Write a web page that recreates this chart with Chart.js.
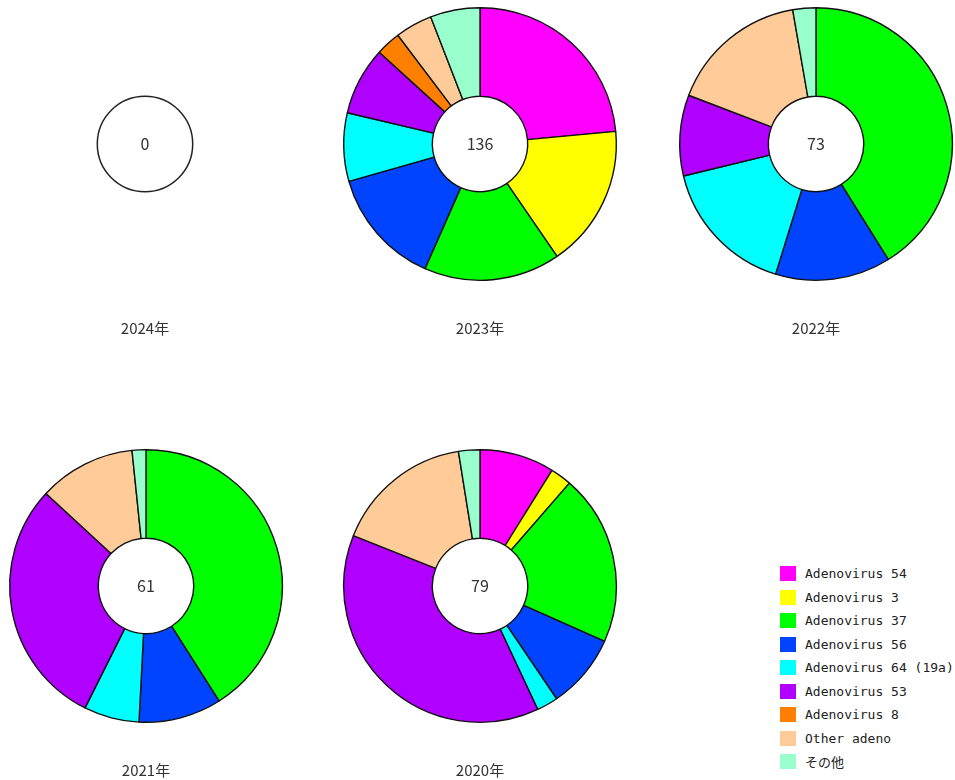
<!DOCTYPE html>
<html lang="ja">
<head>
<meta charset="utf-8">
<script src="https://cdn.jsdelivr.net/npm/chart.js@4"></script>
<style>
    html, body { margin: 0; padding: 0; background: #fff; }
    body { width: 955px; height: 780px; position: relative; overflow: hidden; }
    .pie { position: absolute; width: 282px; height: 338px; }
    #legend { position: absolute; left: 780px; top: 562px; font: 13px "DejaVu Sans Mono", monospace; color: #222; }
    #legend div { height: 23.5px; display: flex; align-items: center; }
    #legend span.box { display: inline-block; width: 16px; height: 15px; margin-right: 9px; }
    #legend span.jp { font-family: "Noto Sans CJK JP", sans-serif; }
</style>
</head>
<body>
<canvas id="c2024" class="pie" width="282" height="338" style="left:4px;top:3px"></canvas>
<canvas id="c2023" class="pie" width="282" height="338" style="left:339px;top:3px"></canvas>
<canvas id="c2022" class="pie" width="282" height="338" style="left:675px;top:3px"></canvas>
<canvas id="c2021" class="pie" width="282" height="338" style="left:5px;top:445px"></canvas>
<canvas id="c2020" class="pie" width="282" height="338" style="left:339px;top:445px"></canvas>
<div id="legend"></div>

<script>
const types = ['Adenovirus 54', 'Adenovirus 3', 'Adenovirus 37', 'Adenovirus 56',
               'Adenovirus 64 (19a)', 'Adenovirus 53', 'Adenovirus 8', 'Other adeno', 'その他'];
const colors = ['#ff00ff', '#ffff00', '#00ff00', '#0044ff', '#00ffff',
                '#b000ff', '#ff8000', '#ffcc99', '#99ffcc'];

const years = ['2024', '2023', '2022', '2021', '2020'];
const counts2024 = [0, 0, 0, 0, 0, 0, 0, 0, 0];
const counts2023 = [32, 23, 22, 19, 11, 11, 4, 6, 8];
const counts2022 = [0, 0, 30, 10, 12, 7, 0, 12, 2];
const counts2021 = [0, 0, 25, 6, 4, 18, 0, 7, 1];
const counts2020 = [7, 2, 16, 7, 2, 30, 0, 13, 2];
const countsByYear = [counts2024, counts2023, counts2022, counts2021, counts2020];

// total in the hole; empty years still get the hole outline
const centerTotal = {
    id: 'centerTotal',
    afterDatasetsDraw(chart) {
        const meta = chart.getDatasetMeta(0);
        const arc = meta.data[0];
        const { x, y, innerRadius } = arc.getProps(['x', 'y', 'innerRadius'], true);
        const data = chart.data.datasets[0].data;
        const total = data.reduce((a, v) => a + v, 0);
        const ctx = chart.ctx;
        ctx.save();
        if (total === 0) {
            ctx.beginPath();
            ctx.arc(x, y, innerRadius, 0, Math.PI * 2);
            ctx.lineWidth = 1.5;
            ctx.strokeStyle = '#222';
            ctx.stroke();
        }
        ctx.fillStyle = '#333';
        ctx.font = '16px "Noto Sans CJK JP", sans-serif';
        ctx.textAlign = 'center';
        ctx.textBaseline = 'middle';
        ctx.fillText(String(total), x, y);
        ctx.restore();
    }
};

years.forEach((yr, i) => {
    new Chart(document.getElementById('c' + yr), {
        type: 'doughnut',
        data: {
            labels: types,
            datasets: [{
                data: countsByYear[i],
                backgroundColor: colors,
                borderColor: '#111',
                borderWidth: 1.4
            }]
        },
        options: {
            responsive: false,
            animation: false,
            cutout: '35%',
            layout: { padding: 4 },
            plugins: {
                legend: { display: false },
                tooltip: { enabled: false },
                title: {
                    display: true,
                    text: yr + '年',
                    position: 'bottom',
                    color: '#333',
                    font: { family: '"Noto Sans CJK JP", sans-serif', size: 15, weight: 'normal', lineHeight: 1.2 },
                    padding: { top: 38, bottom: 0 }
                }
            }
        },
        plugins: [centerTotal]
    });
});

const legend = document.getElementById('legend');
types.forEach((t, i) => {
    const row = document.createElement('div');
    const box = document.createElement('span');
    box.className = 'box';
    box.style.background = colors[i];
    const label = document.createElement('span');
    label.textContent = t;
    if (/[^\x00-\x7f]/.test(t)) label.className = 'jp';
    row.appendChild(box);
    row.appendChild(label);
    legend.appendChild(row);
});
</script>
</body>
</html>
